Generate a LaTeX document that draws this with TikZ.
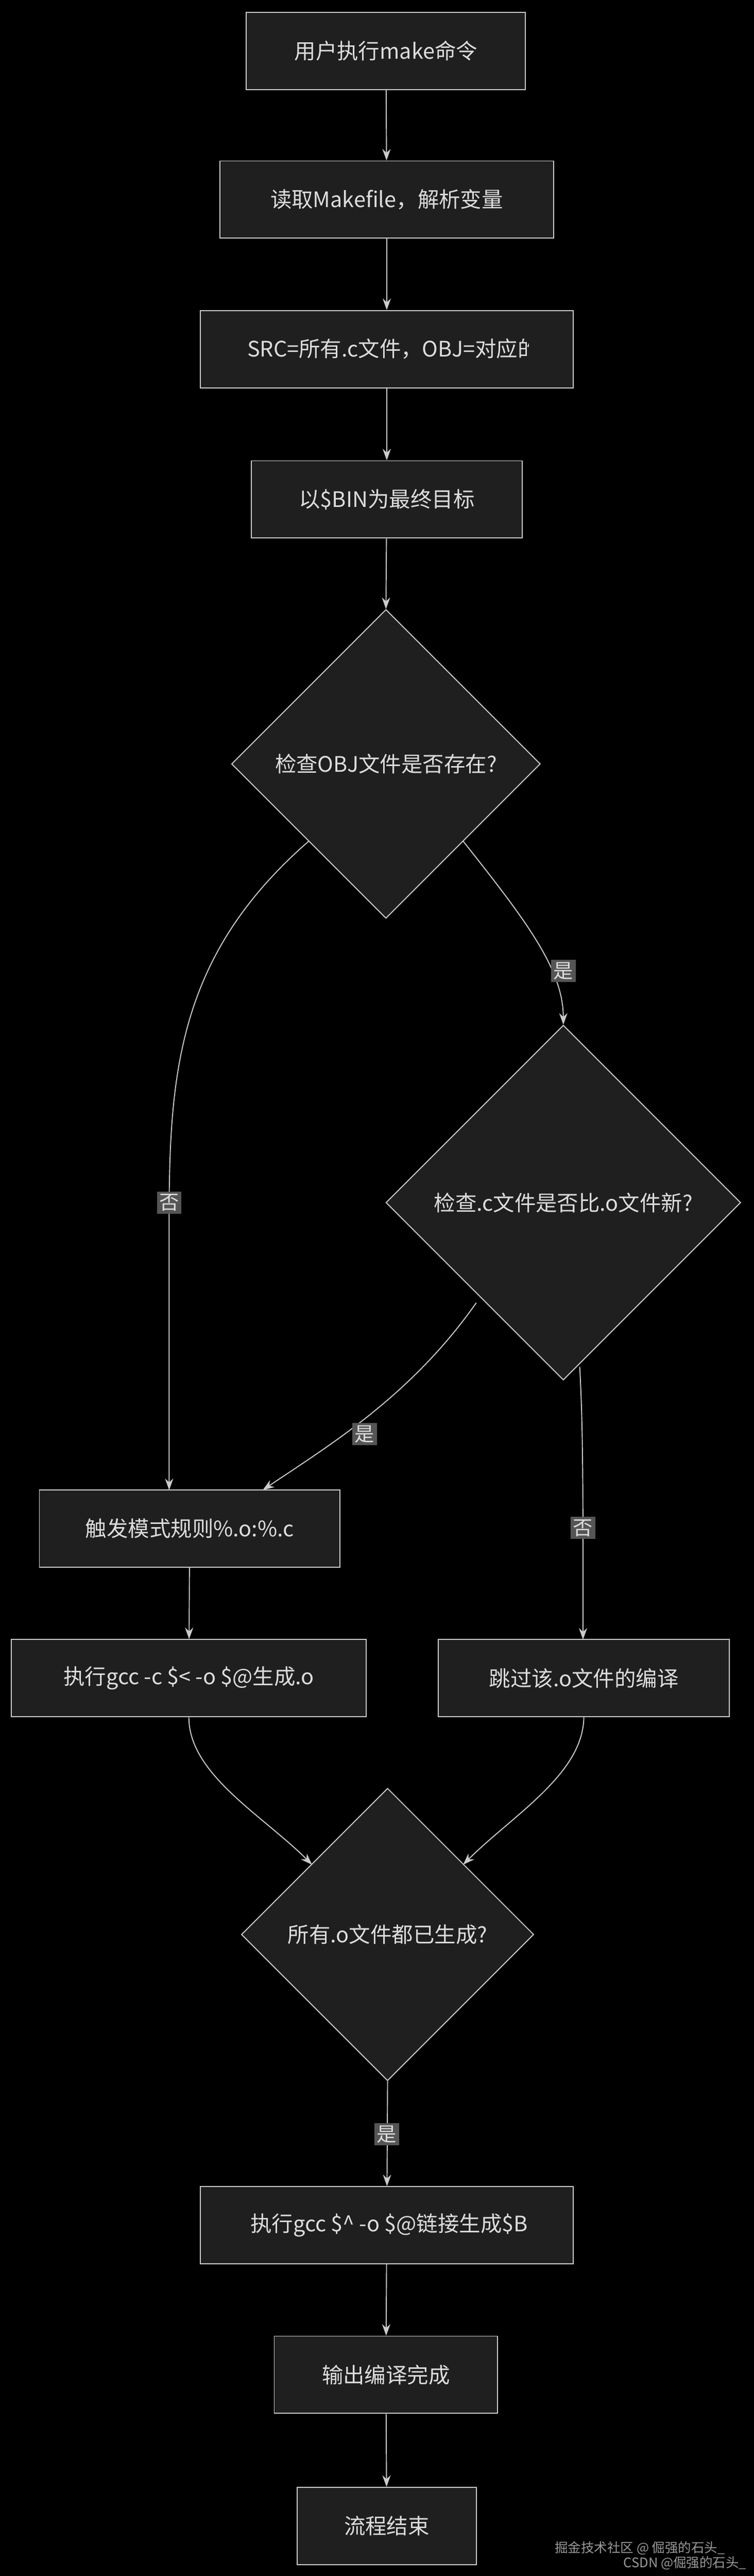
\documentclass[tikz,border=0pt]{standalone}
\usepackage{fontspec}
\setmainfont{Noto Sans CJK SC}
\usetikzlibrary{arrows.meta,shapes.geometric}
\definecolor{bg}{HTML}{000000}
\definecolor{boxfill}{HTML}{1F1F1F}
\definecolor{edge}{HTML}{CCCCCC}
\definecolor{txt}{HTML}{DDDDDD}
\definecolor{lblfill}{HTML}{555555}
\tikzset{
  stepbox/.style={draw=edge,fill=boxfill,line width=0.6pt,minimum height=47pt,inner sep=0pt},
  decide/.style={draw=edge,fill=boxfill,line width=0.6pt,diamond,inner sep=0pt,aspect=1},
  tx/.style={text=txt,font=\fontsize{13}{15}\selectfont},
  conn/.style={draw=edge,line width=0.6pt,-{Stealth[length=7pt,width=5pt]}},
  lbl/.style={fill=lblfill,text=txt,font=\fontsize{12}{14}\selectfont,inner sep=1.5pt},
  wm/.style={text=gray!80,font=\fontsize{8}{9}\selectfont,anchor=east}
}
\begin{document}
\begin{tikzpicture}[x=1pt,y=-1pt]
\fill[bg] (0,0) rectangle (459,1568);
\useasboundingbox (0,0) rectangle (459,1568);
\node[stepbox,minimum width=170pt] (n1) at (235,31) {};
\node[tx] at (n1) {用户执行make命令};
\node[stepbox,minimum width=203pt] (n2) at (235.5,121.5) {};
\node[tx] at (n2) {读取Makefile，解析变量};
\node[stepbox,minimum width=227pt] (n3) at (235.5,212.5) {};
\begin{scope}
\clip (124,190) rectangle (322,235);
\node[tx,anchor=west] at (147,212.5) {SRC=所有.c文件，OBJ=对应的.o文件};
\end{scope}
\node[stepbox,minimum width=165pt] (n4) at (235.5,304) {};
\node[tx] at (n4) {以\$BIN为最终目标};
\node[decide,minimum width=188pt,minimum height=188pt] (d1) at (235,465) {};
\node[tx] at (d1) {检查OBJ文件是否存在?};
\node[decide,minimum width=216pt,minimum height=216pt] (d2) at (343,732) {};
\node[tx] at (d2) {检查.c文件是否比.o文件新?};
\node[stepbox,minimum width=183pt] (n7) at (115.5,930.5) {};
\node[tx] at (n7) {触发模式规则\%.o:\%.c};
\node[stepbox,minimum width=216pt] (n8) at (115,1021.5) {};
\node[tx] at (n8) {执行gcc -c \$< -o \$@生成.o};
\node[stepbox,minimum width=177pt] (n9) at (355.5,1021.5) {};
\node[tx] at (n9) {跳过该.o文件的编译};
\node[decide,minimum width=178pt,minimum height=178pt] (d3) at (236,1177.5) {};
\node[tx] at (d3) {所有.o文件都已生成?};
\node[stepbox,minimum width=227pt] (n11) at (235.5,1354.5) {};
\begin{scope}
\clip (124,1332) rectangle (322,1377);
\node[tx,anchor=west] at (149,1354.5) {执行gcc \$\^{} -o \$@链接生成\$BIN};
\end{scope}
\node[stepbox,minimum width=136pt] (n12) at (235,1445.5) {};
\node[tx] at (n12) {输出编译完成};
\node[stepbox,minimum width=109pt] (n13) at (235.5,1537.5) {};
\node[tx] at (n13) {流程结束};
\coordinate (c7a) at (103,907);
\coordinate (c7b) at (160,907);
\coordinate (c9) at (355,998);
\draw[conn] (n1) -- (n2);
\draw[conn] (n2) -- (n3);
\draw[conn] (n3) -- (n4);
\draw[conn] (n4) -- (d1.north);
\draw[conn] (188,512) .. controls (110,580) and (103,650) .. (103,740) -- (c7a);
\draw[conn] (282,512) .. controls (320,560) and (343,590) .. (d2.north);
\draw[conn] (290,793) .. controls (250,850) and (200,880) .. (c7b);
\draw[conn] (353,832) .. controls (355,870) and (355,900) .. (c9);
\draw[conn] (n7) -- (n8);
\draw[conn] (n8.south) .. controls (115,1080) and (160,1105) .. (190,1135);
\draw[conn] (n9.south) .. controls (355,1080) and (312,1105) .. (282,1135);
\draw[conn] (d3.south) -- (n11);
\draw[conn] (n11) -- (n12);
\draw[conn] (n12) -- (n13);
\node[lbl] (l1) at (343,591) {是};
\node[lbl] (l2) at (103,732) {否};
\node[lbl] (l3) at (222,873) {是};
\node[lbl] (l4) at (355,930) {否};
\node[lbl] (l5) at (235.5,1299) {是};
\node[wm] (w1) at (445,1551) {掘金技术社区 @ 倔强的石头\_};
\node[wm] (w2) at (458,1560) {CSDN @倔强的石头\_};
\end{tikzpicture}
\end{document}
